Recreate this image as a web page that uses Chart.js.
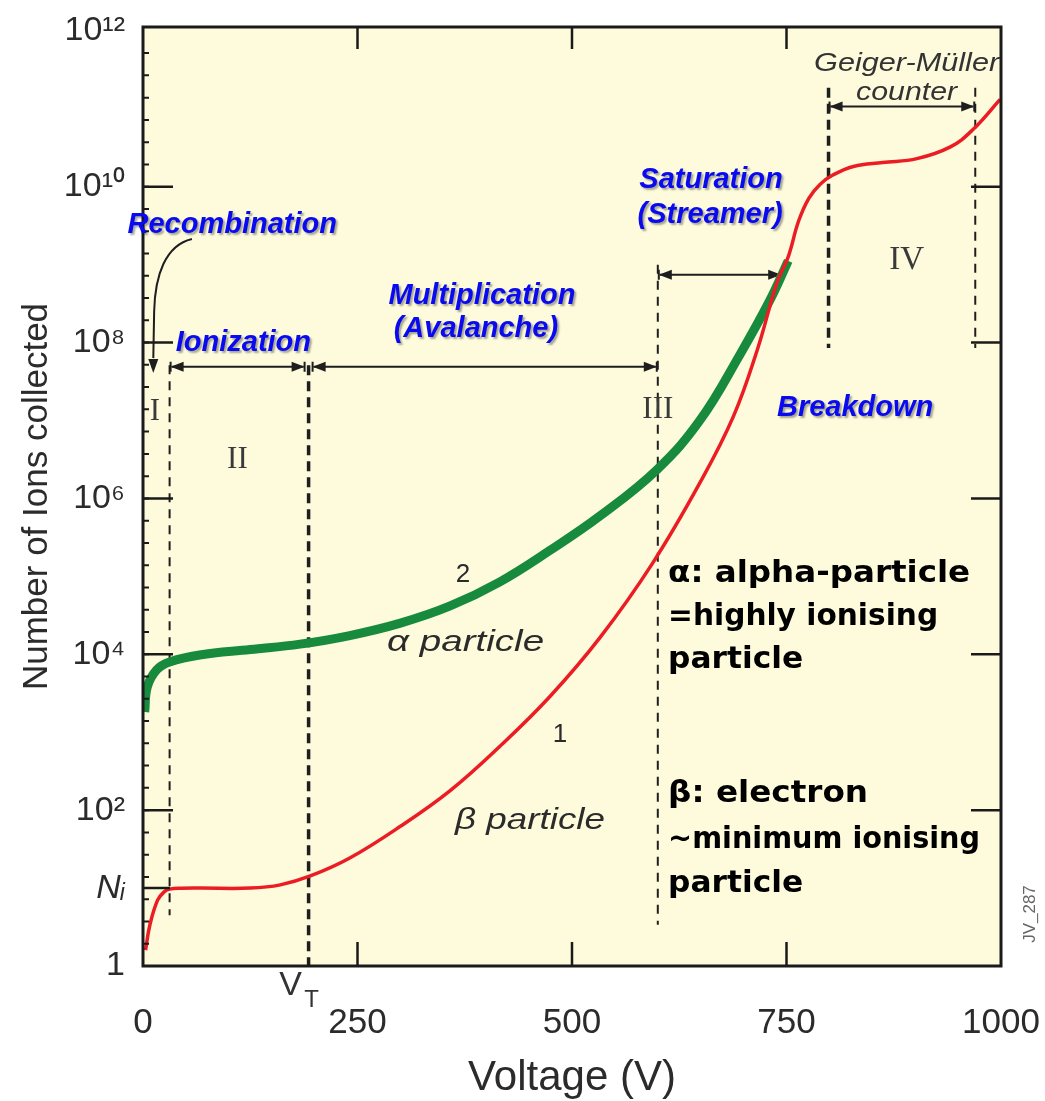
<!DOCTYPE html>
<html>
<head>
<meta charset="utf-8">
<script src="https://cdn.jsdelivr.net/npm/chart.js@4.4.1/dist/chart.umd.min.js"></script>
<style>
  html, body { margin: 0; padding: 0; background: #ffffff; }
  #wrap { width: 1045px; height: 1101px; }
</style>
</head>
<body>
<div id="wrap"><canvas id="c" width="1045" height="1101"></canvas></div>
<script>
// Gas-filled detector response: ions collected vs. applied voltage
const betaVoltage = [3, 8, 17, 25, 31, 45, 66, 125, 160, 195, 241, 300, 358, 416, 474, 533, 594, 649, 688, 716, 739, 752, 764, 776, 789, 804, 828, 862, 902, 941, 967, 999];
const betaIons    = [1.6, 3.36, 7.0, 9.0, 9.7, 9.95, 10, 10, 11, 14.3, 24.3, 62, 178, 660, 2850, 1.66e4, 1.48e5, 1.58e6, 1.12e7, 8.1e7, 5.9e8, 1.26e9, 3.6e9, 7.1e9, 1.07e10, 1.41e10, 1.82e10, 2.04e10, 2.29e10, 3.24e10, 5.37e10, 1.32e11];

const alphaVoltage = [2, 5, 16, 31, 66, 125, 183, 241, 300, 358, 416, 474, 533, 599, 649, 696, 731, 752];
const alphaIons    = [1820, 3800, 6310, 7940, 9770, 1.15e4, 1.35e4, 1.74e4, 2.51e4, 4.17e4, 8.5e4, 2.14e5, 6.0e5, 2.34e6, 1.0e7, 7.1e7, 3.55e8, 1.12e9];

const xTickValues = [0, 250, 500, 750, 1000];
const yTickValues = [1, 10, 1e2, 1e4, 1e6, 1e8, 1e10, 1e12];
const yTickLabels = ['1', 'Nᵢ', '10²', '10⁴', '10⁶', '10⁸', '10¹⁰', '10¹²'];

// voltages separating the operating regions, and the threshold voltage V_T
const regionBounds = [31, 193, 600, 799, 970];
const regionNames  = ['I', 'II', 'III', 'IV'];
const thresholdVoltage = 193;

const SANS  = '"Liberation Sans", Arial, Helvetica, sans-serif';
const SERIF = '"Liberation Serif", "Times New Roman", serif';
const HEAVY = '"DejaVu Sans", "Noto Sans", sans-serif';
const INK = '#2b2b2b';

const plotBackground = {
  id: 'plotBackground',
  beforeDraw(chart) {
    const { ctx, chartArea: a } = chart;
    ctx.save();
    ctx.fillStyle = '#fdfbdc';
    ctx.fillRect(a.left, a.top, a.right - a.left, a.bottom - a.top);
    ctx.restore();
  }
};

function helpers(chart) {
  const X = v => chart.scales.x.getPixelForValue(v);
  const Y = e => chart.scales.y.getPixelForValue(Math.pow(10, e));
  return { X, Y };
}

function arrowHead(ctx, x, y, ang, len = 13, half = 5) {
  const c = Math.cos(ang), s = Math.sin(ang);
  ctx.beginPath();
  ctx.moveTo(x, y);
  ctx.lineTo(x - len * c + half * s, y - len * s - half * c);
  ctx.lineTo(x - len * c - half * s, y - len * s + half * c);
  ctx.closePath();
  ctx.fill();
}

function spanArrow(ctx, x1, x2, y) {
  ctx.beginPath();
  ctx.moveTo(x1 + 2, y);
  ctx.lineTo(x2 - 2, y);
  ctx.stroke();
  arrowHead(ctx, x1 + 1, y, Math.PI);
  arrowHead(ctx, x2 - 1, y, 0);
  ctx.beginPath();
  ctx.moveTo(x1 + 1, y - 5); ctx.lineTo(x1 + 1, y + 5);
  ctx.moveTo(x2 - 1, y - 5); ctx.lineTo(x2 - 1, y + 5);
  ctx.stroke();
}

// dashed region boundaries and the span arrows above them
const regionGuides = {
  id: 'regionGuides',
  beforeDatasetsDraw(chart) {
    const { ctx } = chart;
    const { X, Y } = helpers(chart);
    // [top exponent, bottom exponent, heavy]
    const spans = [[7.71, 0.65, false], [7.71, 0, true], [9.0, 0.53, false], [11.27, 7.93, true], [11.27, 7.93, false]];
    ctx.save();
    ctx.strokeStyle = '#1e1e1e';
    regionBounds.forEach((v, i) => {
      const [t, b, heavy] = spans[i];
      ctx.lineWidth = heavy ? 3.5 : 2;
      ctx.setLineDash(heavy ? [10, 6] : [9, 7]);
      ctx.beginPath();
      ctx.moveTo(X(v), Y(t));
      ctx.lineTo(X(v), Y(b));
      ctx.stroke();
    });
    ctx.setLineDash([]);
    ctx.lineWidth = 2;
    ctx.fillStyle = '#1e1e1e';
    spanArrow(ctx, X(regionBounds[0]), X(regionBounds[1]) - 3, Y(7.69));
    spanArrow(ctx, X(regionBounds[1]) + 3, X(regionBounds[2]), Y(7.69));
    spanArrow(ctx, X(regionBounds[2]), X(745), Y(8.87));
    spanArrow(ctx, X(regionBounds[3]), X(regionBounds[4]), Y(11.03));

    // curved pointer from the recombination label down to region I
    ctx.beginPath();
    ctx.moveTo(X(57), Y(9.33));
    ctx.bezierCurveTo(X(26), Y(9.25), X(14), Y(8.86), X(13), Y(8.40));
    ctx.lineTo(X(12), Y(7.80));
    ctx.stroke();
    arrowHead(ctx, X(12), Y(7.61), Math.PI / 2, 14, 5);
    ctx.restore();
  }
};

// text helper; optional width stretches the run horizontally to that width
function label(ctx, text, x, y, font, color, align = 'center', width = 0) {
  ctx.save();
  ctx.font = font;
  ctx.fillStyle = color;
  ctx.textAlign = align;
  ctx.textBaseline = 'middle';
  if (width) {
    const k = width / ctx.measureText(text).width;
    ctx.translate(x, y);
    ctx.scale(k, 1);
    ctx.fillText(text, 0, 0);
  } else {
    ctx.fillText(text, x, y);
  }
  ctx.restore();
}

// inner ticks, frame and all annotation text
const frameAndNotes = {
  id: 'frameAndNotes',
  afterDatasetsDraw(chart) {
    const { ctx, chartArea: a } = chart;
    const { X, Y } = helpers(chart);
    ctx.save();
    ctx.strokeStyle = '#1a1a1a';

    // minor ticks on the left axis
    ctx.lineWidth = 2;
    ctx.beginPath();
    for (let k = 1; k < 43; k++) {
      const y = Y(k * 2 / 7);
      if (y < a.top + 4) break;
      ctx.moveTo(a.left, y); ctx.lineTo(a.left + 6, y);
    }
    ctx.stroke();

    // major ticks (inward)
    ctx.lineWidth = 2.5;
    ctx.beginPath();
    [2, 4, 6, 8, 10].forEach(e => {
      ctx.moveTo(a.left, Y(e)); ctx.lineTo(a.left + 30, Y(e));
      ctx.moveTo(a.right, Y(e)); ctx.lineTo(a.right - 30, Y(e));
    });
    ctx.moveTo(a.left, Y(1)); ctx.lineTo(a.left + 27, Y(1));
    [250, 500, 750].forEach(v => {
      ctx.moveTo(X(v), a.bottom); ctx.lineTo(X(v), a.bottom - 24);
      ctx.moveTo(X(v), a.top); ctx.lineTo(X(v), a.top + 22);
    });
    ctx.stroke();

    // frame
    ctx.lineWidth = 3;
    ctx.strokeRect(a.left, a.top, a.right - a.left, a.bottom - a.top);

    // region numerals
    const numeralFont = '31px ' + SERIF;
    const numeralInk = '#3a3a3a';
    label(ctx, regionNames[0], X(14), Y(7.11), numeralFont, numeralInk);
    label(ctx, regionNames[1], X(110), Y(6.5), numeralFont, numeralInk);
    label(ctx, regionNames[2], X(600), Y(7.14), numeralFont, numeralInk);
    label(ctx, regionNames[3], X(890), Y(9.06), '33px ' + SERIF, numeralInk);

    // curve captions
    label(ctx, '2', X(373), Y(5.02), '26px ' + SANS, INK);
    label(ctx, 'α particle', X(376), Y(4.15), 'italic 30px ' + SANS, INK, 'center', 157);
    label(ctx, '1', X(486), Y(2.97), '26px ' + SANS, INK);
    label(ctx, 'β particle', X(451), Y(1.87), 'italic 30px ' + SANS, INK, 'center', 150);
    label(ctx, 'Geiger-Müller', X(890), Y(11.58), 'italic 26px ' + SANS, '#333', 'center', 185);
    label(ctx, 'counter', X(890), Y(11.21), 'italic 26px ' + SANS, '#333', 'center', 101);

    // region names
    ctx.save();
    ctx.shadowColor = 'rgba(0,0,0,0.35)';
    ctx.shadowOffsetX = 2;
    ctx.shadowOffsetY = 2;
    ctx.shadowBlur = 2;
    const blue = '#0a0af0';
    const blueFont = 'italic bold 29px ' + SANS;
    label(ctx, 'Recombination', X(104), Y(9.51), blueFont, blue);
    label(ctx, 'Ionization', X(117), Y(8.0), blueFont, blue);
    label(ctx, 'Multiplication', X(395), Y(8.6), blueFont, blue);
    label(ctx, '(Avalanche)', X(388), Y(8.18), blueFont, blue);
    label(ctx, 'Saturation', X(662), Y(10.08), blueFont, blue);
    label(ctx, '(Streamer)', X(661), Y(9.64), blueFont, blue);
    label(ctx, 'Breakdown', X(830), Y(7.16), blueFont, blue);
    ctx.restore();

    // particle notes
    const noteFont = 'bold 30px ' + HEAVY;
    const notes = [['α: alpha-particle', 5.03, 302], ['=highly ionising', 4.48, 270], ['particle', 3.93, 135],
                   ['β: electron', 2.2, 200], ['~minimum ionising', 1.62, 312], ['particle', 1.05, 135]];
    notes.forEach(([t, e, w]) => label(ctx, t, X(612), Y(e), noteFont, '#000', 'left', w));

    // threshold voltage marker under the axis
    const vx = X(thresholdVoltage);
    label(ctx, 'V', vx - 18, a.bottom + 20, '34px ' + SANS, '#333');
    label(ctx, 'T', vx + 3, a.bottom + 34, '24px ' + SANS, '#333');

    // figure id
    ctx.save();
    ctx.translate(a.right + 29, a.bottom - 52);
    ctx.rotate(-Math.PI / 2);
    label(ctx, 'JV_287', 0, 0, '17px ' + SANS, '#666');
    ctx.restore();

    ctx.restore();
  }
};

new Chart(document.getElementById('c'), {
  type: 'line',
  data: {
    datasets: [
      {
        label: 'β particle',
        data: betaVoltage.map((v, i) => ({ x: v, y: betaIons[i] })),
        borderColor: '#ec1c24',
        borderWidth: 3.5,
        tension: 0.4,
        pointRadius: 0,
        order: 0
      },
      {
        label: 'α particle',
        data: alphaVoltage.map((v, i) => ({ x: v, y: alphaIons[i] })),
        borderColor: '#178a3e',
        borderWidth: 9,
        tension: 0.4,
        pointRadius: 0,
        order: 1
      }
    ]
  },
  options: {
    responsive: false,
    animation: false,
    devicePixelRatio: 1,
    layout: { padding: { left: 0, right: 44, top: 27, bottom: 0 } },
    plugins: { legend: { display: false }, tooltip: { enabled: false } },
    scales: {
      x: {
        type: 'linear',
        min: 0,
        max: 1000,
        afterBuildTicks: s => { s.ticks = xTickValues.map(v => ({ value: v })); },
        afterFit: s => { s.height = 135; s.paddingLeft = 0; s.paddingRight = 0; },
        grid: { display: false },
        border: { display: false },
        ticks: {
          font: { family: SANS, size: 35 },
          color: INK,
          padding: 28,
          maxRotation: 0,
          autoSkip: false,
          callback: v => String(v)
        },
        title: {
          display: true,
          text: 'Voltage (V)',
          font: { family: SANS, size: 42, lineHeight: 1 },
          color: INK,
          padding: { top: 0, bottom: 2 }
        }
      },
      y: {
        type: 'logarithmic',
        min: 1,
        max: 1.12e12,
        afterBuildTicks: s => { s.ticks = yTickValues.map(v => ({ value: v })); },
        afterFit: s => { s.width = 143; s.paddingTop = 0; s.paddingBottom = 0; },
        grid: { display: false },
        border: { display: false },
        ticks: {
          font: ctx => ({ family: SANS, size: 34, style: ctx.index === 1 ? 'italic' : 'normal' }),
          color: INK,
          padding: 10,
          autoSkip: false,
          callback: (v, i) => yTickLabels[i]
        },
        title: {
          display: true,
          text: 'Number of Ions collected',
          font: { family: SANS, size: 35, lineHeight: 1.2 },
          color: INK,
          padding: { top: 16, bottom: 0 }
        }
      }
    }
  },
  plugins: [plotBackground, regionGuides, frameAndNotes]
});
</script>
</body>
</html>
